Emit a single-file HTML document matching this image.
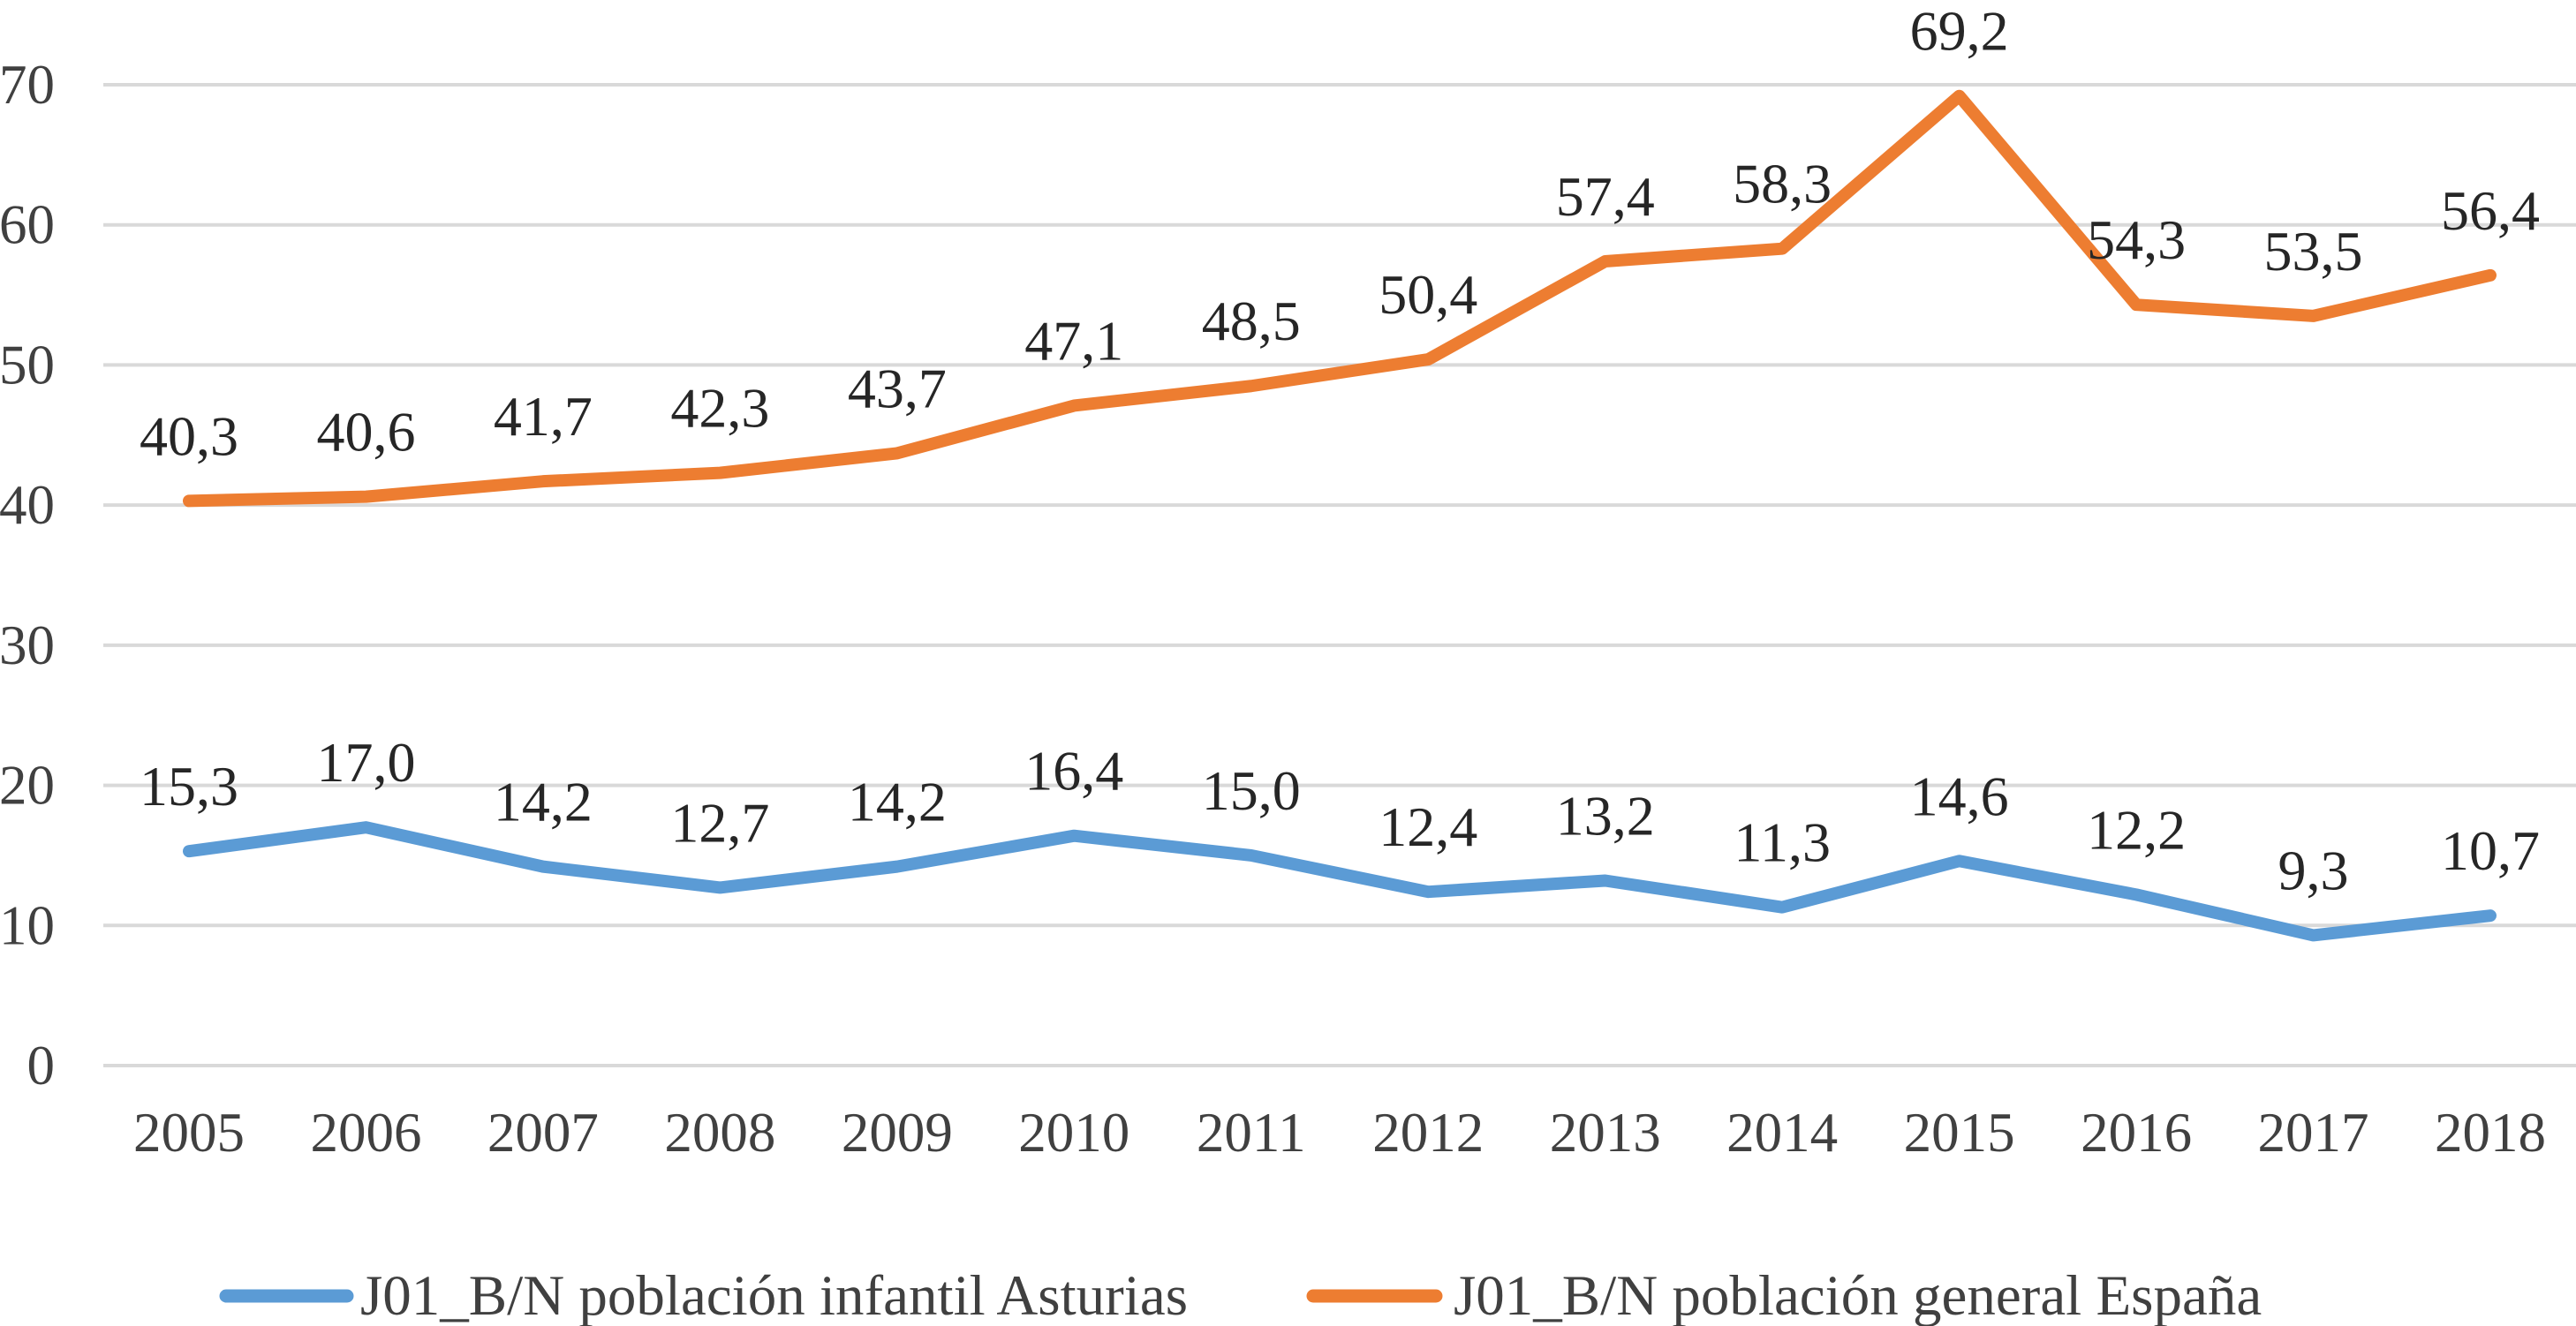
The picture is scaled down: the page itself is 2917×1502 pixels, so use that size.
<!DOCTYPE html>
<html><head><meta charset="utf-8"><style>
html,body{margin:0;padding:0;background:#fff;}
svg{display:block;font-family:"Liberation Serif",serif;}
</style></head><body>
<svg id="chart" width="2917" height="1502" viewBox="0 0 2917 1502">
<g id="grid"></g>
<g id="yt"></g>
<g id="xt"></g>
<g id="series"></g>
<g id="labels"></g>
<g>
<line x1="256" y1="1468" x2="393" y2="1468" stroke="#5B9BD5" stroke-width="15" stroke-linecap="round"/>
<text x="408" y="1489" font-size="65" fill="#404040">J01_B/N población infantil Asturias</text>
<line x1="1487" y1="1468" x2="1626" y2="1468" stroke="#ED7D31" stroke-width="15" stroke-linecap="round"/>
<text x="1646" y="1489" font-size="65" fill="#404040">J01_B/N población general España</text>
</g>
</svg>
<script>
const years = ["2005","2006","2007","2008","2009","2010","2011","2012","2013","2014","2015","2016","2017","2018"];
const asturias = [15.3,17.0,14.2,12.7,14.2,16.4,15.0,12.4,13.2,11.3,14.6,12.2,9.3,10.7];
const espana = [40.3,40.6,41.7,42.3,43.7,47.1,48.5,50.4,57.4,58.3,69.2,54.3,53.5,56.4];
const yTicks = [0,10,20,30,40,50,60,70];

const NS="http://www.w3.org/2000/svg";
const x0=214, x1=2820, yBase=1207, yTop=96, yMax=70, gridL=117, gridR=2917;
const xs=i=>x0+(x1-x0)*i/(years.length-1);
const ys=v=>yBase-(yBase-yTop)*v/yMax;
function mk(tag,attrs,parent){const e=document.createElementNS(NS,tag);for(const k in attrs)e.setAttribute(k,attrs[k]);parent.appendChild(e);return e;}
const grid=document.getElementById('grid'), yt=document.getElementById('yt'), xt=document.getElementById('xt');
yTicks.forEach(t=>{
  const l=mk('line',{x1:gridL,x2:gridR,y1:ys(t),y2:ys(t),stroke:'#D9D9D9','stroke-width':4},grid);
  
  
  const tx=mk('text',{x:62,y:ys(t)+21,'text-anchor':'end','font-size':63,fill:'#404040'},yt);
  tx.textContent=t;
  
  
});
years.forEach((y,i)=>{
  const tx=mk('text',{x:xs(i),y:1304,'text-anchor':'middle','font-size':63,fill:'#404040'},xt);
  tx.textContent=y;
  
  
});
const ser=document.getElementById('series'), lab=document.getElementById('labels');
[[asturias,'#5B9BD5','asturias'],[espana,'#ED7D31','espana']].forEach(([d,c,n])=>{
  const p=mk('polyline',{points:d.map((v,i)=>xs(i)+','+ys(v)).join(' '),fill:'none',stroke:c,'stroke-width':14,'stroke-linejoin':'round','stroke-linecap':'round'},ser);
  
  
  d.forEach((v,i)=>{
    const t=mk('text',{x:xs(i),y:ys(v)-52,'text-anchor':'middle','font-size':64,fill:'#262626'},lab);
    t.textContent=v.toFixed(1).replace('.',',');
    
    
  });
});
</script>
</body></html>
